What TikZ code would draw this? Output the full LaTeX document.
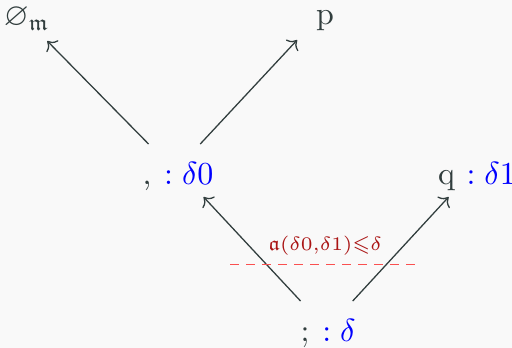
\documentclass[tikz,border=0pt]{standalone}
\usepackage{amssymb}
\usetikzlibrary{arrows.meta}

\definecolor{inkgray}{RGB}{50,62,62}
\definecolor{boundred}{RGB}{170,20,20}
\definecolor{cutred}{RGB}{250,80,80}
\definecolor{paper}{RGB}{249,249,249}

\begin{document}
\begin{tikzpicture}[
    x=0.3125pt, y=-0.3125pt,
    every node/.style={text=inkgray, inner sep=0pt, outer sep=0pt, anchor=base},
    judg/.style={text height=12.8pt, text depth=3.75pt, minimum width=22pt},
    goal/.style={text height=7.8pt, text depth=4.85pt, minimum width=18.75pt},
    bound/.style={text=boundred, font=\fontsize{6.3}{7}\selectfont},
    arrow/.style={-{Computer Modern Rightarrow}, draw=inkgray, line width=0.4pt},
    cut/.style={draw=cutred, dash pattern=on 2.7pt off 2.3pt, line width=0.4pt}
]

% Canvas
\fill[paper] (0,0) rectangle (512,348);
\useasboundingbox (0,0) rectangle (512,348);

% Goals at the top
\node[goal] (empty) at (27,25.5) {$\varnothing_{\mathfrak{m}}$};
\node[goal] (p) at (325,24.5) {p};

% Judgements
\node[judg] (comma) at (178,185) {,\hspace{4pt}{\color{blue}$:\delta0$}};
\node[judg] (q) at (477,185) {q\hspace{3.6pt}{\color{blue}$:\delta1$}};
\node[judg] (semi) at (328,342) {;\hspace{4pt}{\color{blue}$:\delta$}};

% Derivation arrows
\draw[arrow] (comma.138.5) -- (empty.-45);
\draw[arrow] (comma.50.3) -- (p.216.9);
\draw[arrow] (semi.136.6) -- (comma.-46.7);
\draw[arrow] (semi.47.8) -- (q.223);

% Bound on the cut
\node[bound] (bnd) at (325,251) {$\mathfrak{a}(\delta0{,}\delta1)\mathord{\leqslant}\delta$};
\coordinate (cutL) at (230,264.5);
\coordinate (cutR) at (417,264.5);
\draw[cut] (cutL) -- (cutR);

\end{tikzpicture}
\end{document}
